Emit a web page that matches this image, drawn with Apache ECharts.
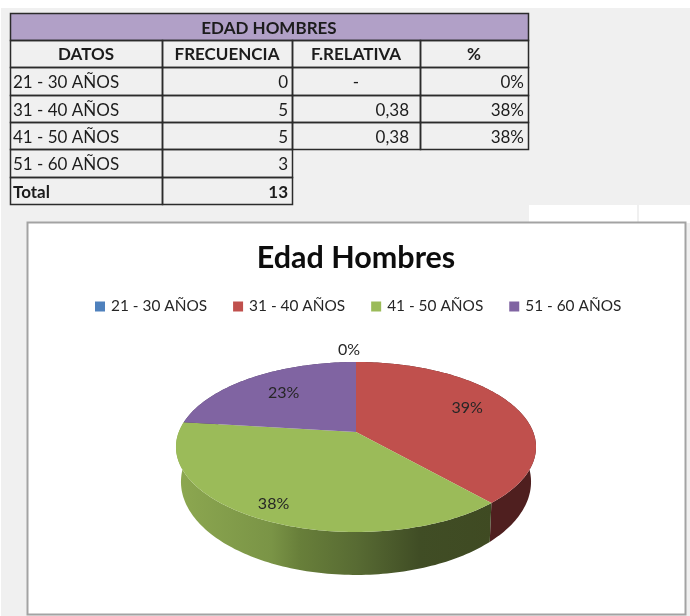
<!DOCTYPE html>
<html>
<head>
<meta charset="utf-8">
<style>
  html, body { margin: 0; padding: 0; background: #fff; }
  #chart { width: 690px; height: 616px; }
</style>
</head>
<body>
<div id="chart"></div>
<script src="https://cdn.jsdelivr.net/npm/echarts@6/dist/echarts.min.js"></script>
<script>
var categories = ['21 - 30 AÑOS', '31 - 40 AÑOS', '41 - 50 AÑOS', '51 - 60 AÑOS']
var frecuencia = [0, 5, 5, 3]
var relativa = ['-', '0,38', '0,38']
var porcentaje = ['0%', '38%', '38%']
var pieLabels = ['0%', '39%', '38%', '23%']
var tableTitle = 'EDAD HOMBRES'
var tableHeaders = ['DATOS', 'FRECUENCIA', 'F.RELATIVA', '%']
var totalLabel = 'Total'
var totalValue = 13
var chartTitle = 'Edad Hombres'

var colors = ['#4F81BD', '#C0504D', '#9BBB59', '#8064A2']
var fontName = 'Lato, "Noto Sans", sans-serif'

// table grid
var colX = [10, 162, 292, 420, 528]
var rowY = [13, 40, 67, 95, 122, 149, 177, 204]

// pie projection, centre is where the slices meet
var cx = 356
var cy = 432
var topRim = { k: 177.2, a: 82.35, c: 0.1765, off: 0 }
var lowRim = { k: 171.5, a: 89.4, c: 0.2, off: 31.2 }

// where the percent label of each slice sits
var labelPlace = [
  { r: 1.0, dx: -7, dy: -12 },
  { r: 0.7, dx: 0, dy: -5 },
  { r: 0.82, dx: -5, dy: 3 },
  { r: 0.72, dx: 5, dy: 1 }
]

function project(p, theta, r) {
  var u = r * Math.sin(theta)
  var v = -r * Math.cos(theta)
  var d = 1 - p.c * v
  return [cx + p.k * u / d, cy + p.off + p.a * v / d]
}

function arc(p, from, to, r) {
  var pts = []
  var n = Math.max(2, Math.ceil(Math.abs(to - from) / 0.02))
  for (var i = 0; i <= n; i++) {
    pts.push(project(p, from + (to - from) * i / n, r))
  }
  return pts
}

var wallFills = [
  '#2f4d71',
  '#4f1f1f',
  new echarts.graphic.LinearGradient(180, 0, 495, 0, [
    { offset: 0, color: '#8ca750' },
    { offset: 0.29, color: '#7a9446' },
    { offset: 0.38, color: '#687f3a' },
    { offset: 0.56, color: '#586b33' },
    { offset: 0.76, color: '#404d25' },
    { offset: 1, color: '#3f4a22' }
  ], true),
  '#4c3c61'
]

function sliceItem(index) {
  return function (params, api) {
    var total = frecuencia.reduce(function (a, b) { return a + b }, 0)
    var before = frecuencia.slice(0, index).reduce(function (a, b) { return a + b }, 0)
    var from = before / total * Math.PI * 2
    var to = (before + api.value(0)) / total * Math.PI * 2
    var children = []
    if (to > from) {
      var upper = arc(topRim, from, to, 1)
      var lower = arc(lowRim, from, to, 1)
      children.push({
        type: 'polygon',
        z2: 1,
        shape: { points: upper.concat(lower.reverse()) },
        style: { fill: wallFills[index] }
      })
      children.push({
        type: 'polygon',
        z2: 10,
        shape: { points: [[cx, cy]].concat(upper) },
        style: { fill: colors[index] }
      })
    }
    var place = labelPlace[index]
    var pos = project(topRim, (from + to) / 2, place.r)
    children.push({
      type: 'text',
      z2: 20,
      style: {
        x: pos[0] + place.dx,
        y: pos[1] + place.dy,
        text: pieLabels[index],
        fill: '#262626',
        font: '16px ' + fontName,
        align: 'center',
        verticalAlign: 'middle'
      }
    })
    return { type: 'group', children: children }
  }
}

function cellText(text, col, row, align, bold) {
  var x = (colX[col] + colX[col + 1]) / 2
  if (align === 'left') x = colX[col] + 3
  if (align === 'right') x = colX[col + 1] - 4
  if (align === 'relativa') { x = colX[col + 1] - 11; align = 'right' }
  return {
    type: 'text',
    z: 3,
    style: {
      x: x,
      y: (rowY[row] + rowY[row + 1]) / 2 + (row === 1 ? 1 : 2),
      text: String(text),
      fill: '#1c1c1c',
      font: (bold ? 'bold ' : '') + '17px ' + fontName,
      align: align,
      verticalAlign: 'middle'
    }
  }
}

function cellBox(x1, y1, x2, y2, fill) {
  return {
    type: 'rect',
    z: 2,
    shape: { x: x1 + 0.5, y: y1 + 0.5, width: x2 - x1, height: y2 - y1 },
    style: { fill: fill || 'transparent', stroke: '#2b2b2b', lineWidth: 1.5 }
  }
}

function buildTable() {
  var els = []
  els.push(cellBox(colX[0], rowY[0], colX[4], rowY[1], '#B1A0C7'))
  els.push(cellText(tableTitle, 1, 0, 'center', true))
  els[els.length - 1].style.x = (colX[0] + colX[4]) / 2
  tableHeaders.forEach(function (h, c) {
    els.push(cellBox(colX[c], rowY[1], colX[c + 1], rowY[2]))
    els.push(cellText(h, c, 1, 'center', true))
  })
  categories.forEach(function (name, i) {
    var row = i + 2
    els.push(cellBox(colX[0], rowY[row], colX[1], rowY[row + 1]))
    els.push(cellBox(colX[1], rowY[row], colX[2], rowY[row + 1]))
    els.push(cellText(name, 0, row, 'left', false))
    els.push(cellText(frecuencia[i], 1, row, 'right', false))
    if (i < relativa.length) {
      els.push(cellBox(colX[2], rowY[row], colX[3], rowY[row + 1]))
      els.push(cellBox(colX[3], rowY[row], colX[4], rowY[row + 1]))
      els.push(cellText(relativa[i], 2, row, relativa[i] === '-' ? 'center' : 'relativa', false))
      els.push(cellText(porcentaje[i], 3, row, 'right', false))
    }
  })
  els.push(cellBox(colX[0], rowY[6], colX[1], rowY[7]))
  els.push(cellBox(colX[1], rowY[6], colX[2], rowY[7]))
  els.push(cellText(totalLabel, 0, 6, 'left', true))
  els.push(cellText(totalValue, 1, 6, 'right', true))
  return els
}

// sheet background, the white patches and the chart frame
var sheet = [
  { type: 'rect', z: 0, shape: { x: 1, y: 8, width: 689, height: 608 }, style: { fill: '#f0f0f0' } },
  { type: 'rect', z: 0, shape: { x: 529, y: 205, width: 108, height: 18 }, style: { fill: '#fff' } },
  { type: 'rect', z: 0, shape: { x: 639, y: 205, width: 51, height: 18 }, style: { fill: '#fff' } },
  {
    type: 'rect',
    z: 1,
    shape: { x: 27.5, y: 222.5, width: 658, height: 392 },
    style: { fill: '#fff', stroke: '#a3a3a3', lineWidth: 2 }
  }
]

var chart = echarts.init(document.getElementById('chart'))
chart.setOption({
  animation: false,
  backgroundColor: '#fff',
  title: {
    text: chartTitle,
    left: 351,
    top: 238,
    textAlign: 'center',
    textStyle: { fontFamily: fontName, fontWeight: 'bold', fontSize: 30.5, color: '#0d0d0d' }
  },
  legend: {
    left: 95,
    top: 299,
    padding: 0,
    icon: 'rect',
    itemWidth: 10,
    itemHeight: 10,
    itemGap: 26,
    data: categories,
    textStyle: { fontFamily: fontName, fontSize: 15.4, color: '#262626', padding: [0, 0, 0, 1] }
  },
  graphic: { elements: sheet.concat(buildTable()) },
  series: categories.map(function (name, i) {
    return {
      name: name,
      type: 'custom',
      coordinateSystem: 'none',
      silent: true,
      color: colors[i],
      renderItem: sliceItem(i),
      data: [[frecuencia[i]]]
    }
  })
})
</script>
</body>
</html>
